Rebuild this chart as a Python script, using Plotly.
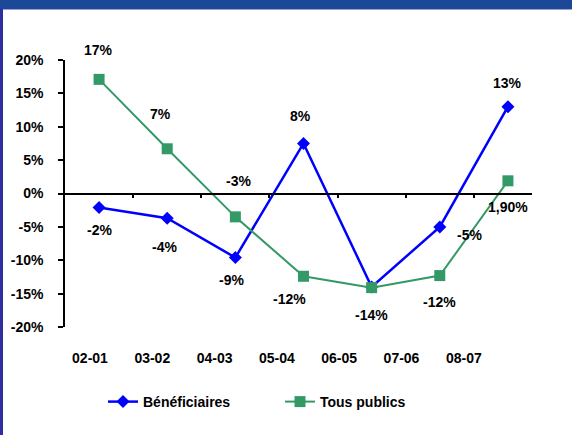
import plotly.graph_objects as go

categories = ["02-01", "03-02", "04-03", "05-04", "06-05", "07-06", "08-07"]
benef = [-2.1, -3.7, -9.6, 7.5, -14.0, -5.0, 13.0]
tous = [17.1, 6.7, -3.5, -12.4, -14.1, -12.3, 1.9]
benef_text = ["-2%", "-4%", "-9%", "8%", "-14%", "-5%", "13%"]
tous_text = ["17%", "7%", "-3%", "-12%", "", "-12%", "1,90%"]
y_ticks = [-20, -15, -10, -5, 0, 5, 10, 15, 20]

# label offsets in pixels (style)
benef_shift = [(0, -22), (-3, -29), (-4, -22), (-3, 27), (0, -28), (30, -8), (0, 24)]
tous_shift = [(-1, 29), (-7, 35), (3, 36), (-14, -23), (0, -26), (0, -26), (0, -26)]

FONT = "Liberation Sans Narrow, Arial Narrow, Liberation Sans, Arial"
BLUE = "#0000FF"
GREEN = "#339966"
TXT = dict(family=FONT, size=14, color="black", weight="bold")

fig = go.Figure()
# invisible traces to activate the helper axes (drawn first, underneath)
fig.add_trace(go.Scatter(x=[0], y=[None], xaxis="x2", showlegend=False, hoverinfo="skip"))
fig.add_trace(go.Scatter(x=[0], y=[None], xaxis="x3", showlegend=False, hoverinfo="skip"))

fig.add_trace(go.Scatter(
    x=categories, y=benef, name="Bénéficiaires", mode="lines+markers",
    line=dict(color=BLUE, width=2.5),
    marker=dict(symbol="diamond", size=10, color=BLUE),
))
fig.add_trace(go.Scatter(
    x=categories, y=tous, name="Tous publics", mode="lines+markers",
    line=dict(color=GREEN, width=2),
    marker=dict(symbol="square", size=11, color=GREEN),
))

annotations = []
for vals, texts, shifts in ((benef, benef_text, benef_shift), (tous, tous_text, tous_shift)):
    for c, v, t, (dx, dy) in zip(categories, vals, texts, shifts):
        if not t:
            continue
        annotations.append(dict(
            x=c, y=v, text=t, showarrow=False,
            xshift=dx, yshift=dy, font=TXT,
        ))

W, H = 572, 435
L, R, T, B = 65, 30, 60, 108
PW = W - L - R
PH = H - T - B

def px_x(p):
    return (p - L) / PW

def px_y(p):
    return (H - B - p) / PH

shapes = [
    dict(type="rect", xref="paper", yref="paper", x0=px_x(-5), x1=px_x(W + 5),
         y0=px_y(9), y1=px_y(-5), fillcolor="#1C4898", line=dict(width=0), layer="above"),
    dict(type="line", xref="paper", yref="paper", x0=px_x(0), x1=px_x(W + 5),
         y0=px_y(9.5), y1=px_y(9.5), line=dict(color="#A0A0D8", width=1)),
    dict(type="rect", xref="paper", yref="paper", x0=px_x(-2), x1=px_x(3),
         y0=px_y(H + 5), y1=px_y(9), fillcolor="#2E2EA0", line=dict(width=0)),
]

zero_dom = (532 - L) / PW

fig.update_layout(
    width=W, height=H,
    margin=dict(l=L, r=R, t=T, b=B),
    paper_bgcolor="white", plot_bgcolor="rgba(0,0,0,0)",
    font=TXT,
    showlegend=True,
    legend=dict(
        orientation="h", x=px_x(103), y=px_y(402), xanchor="left", yanchor="middle",
        font=TXT, entrywidth=132, entrywidthmode="pixels", bgcolor="rgba(0,0,0,0)",
    ),
    xaxis=dict(
        type="category", range=[-0.5, 6.5], showline=False, showgrid=False,
        zeroline=False, ticks="", showticklabels=False,
    ),
    xaxis2=dict(
        anchor="free", position=0.5, domain=[0, zero_dom],
        type="linear", range=[-0.5, -0.5 + zero_dom * 7],
        tickvals=[0.5, 1.5, 2.5, 3.5, 4.5, 5.5], showticklabels=False,
        ticks="outside", ticklen=4, tickwidth=1.5, tickcolor="black",
        showline=True, linecolor="black", linewidth=1.5, showgrid=False, zeroline=False,
    ),
    xaxis3=dict(
        overlaying="x", anchor="y", side="bottom", type="linear",
        range=[-0.401, 7.255], tickvals=list(range(len(categories))), ticktext=categories,
        ticks="", showline=False, showgrid=False, zeroline=False,
        tickfont=TXT, ticklabelstandoff=21,
    ),
    yaxis=dict(
        range=[-20, 20], tickvals=y_ticks, ticktext=[f"{v}%" for v in y_ticks],
        showline=True, linecolor="black", linewidth=1.5, ticks="outside", ticklen=5,
        tickwidth=1.5, tickcolor="black", showgrid=False, zeroline=False,
        tickfont=TXT, ticklabelstandoff=12,
    ),
    annotations=annotations,
    shapes=shapes,
)

fig.write_html(
    "out.html",
    config={"displayModeBar": False},
    post_script="document.body.style.margin='0';document.body.style.overflow='hidden';",
)
